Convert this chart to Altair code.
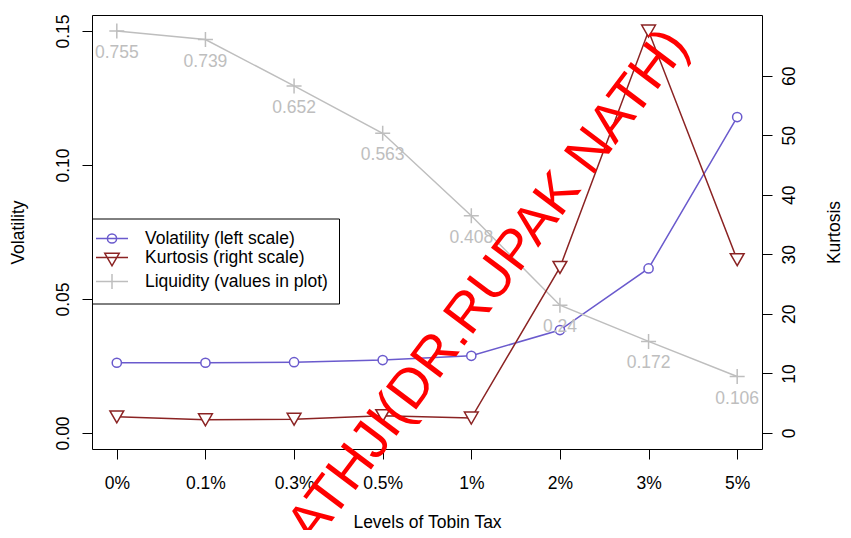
import altair as alt
import pandas as pd

# ---------------- data ----------------
taxes = ["0%", "0.1%", "0.3%", "0.5%", "1%", "2%", "3%", "5%"]
volatility = [0.0262, 0.0262, 0.0264, 0.0272, 0.0288, 0.0384, 0.0614, 0.1179]
kurtosis = [2.7, 2.2, 2.3, 2.9, 2.5, 27.8, 67.5, 29.1]
liquidity = [0.755, 0.739, 0.652, 0.563, 0.408, 0.24, 0.172, 0.106]
liquidity_labels = ["0.755", "0.739", "0.652", "0.563", "0.408", "0.24", "0.172", "0.106"]
series = ["Volatility (left scale)", "Kurtosis (right scale)", "Liquidity (values in plot)"]
colors = ["#6A5ACD", "#8B2323", "#BEBEBE"]
left_ticks = [0, 0.05, 0.10, 0.15]
right_ticks = [0, 10, 20, 30, 40, 50, 60]
watermark = "ATHJI(DR.RUPAK NATH)"

FONT = "Liberation Sans"
FS = 17.5
VOL_C, KUR_C, LIQ_C = colors

df = pd.DataFrame({"tax": taxes, "vol": volatility, "kurt": kurtosis,
                   "liq": liquidity, "liq_label": liquidity_labels})
# liquidity is drawn on the left scale, its largest value mapped to 0.15
df["liq_plot"] = df["liq"] / df["liq"].max() * 0.15

left_dom = [-0.04 * 0.15, 1.04 * 0.15]
kmax = max(kurtosis)
right_dom = [-0.04 * kmax, 1.04 * kmax]

x_enc = alt.X("tax:N", sort=taxes,
              scale=alt.Scale(type="point", padding=0.28),
              axis=alt.Axis(title="Levels of Tobin Tax", labelAngle=0, labelAlign="center",
                            labelBaseline="alphabetic", labelPadding=29, labelFlush=False,
                            titleX=335, titleY=78, titleAlign="center",
                            titleBaseline="alphabetic"))

left_axis = alt.Axis(values=left_ticks, format=".2f", labelAngle=270, labelAlign="center",
                     labelBaseline="alphabetic", labelPadding=14, labelFlush=False,
                     labelOverlap=False, title="Volatility", titleAngle=270,
                     titleX=-69, titleY=217, titleAlign="center", titleBaseline="alphabetic")
right_axis = alt.Axis(values=right_ticks, format="d", labelAngle=270, labelAlign="center",
                      labelBaseline="alphabetic", labelPadding=22, labelFlush=False,
                      labelOverlap=False, title="Kurtosis", titleAngle=270, orient="right",
                      titleX=77, titleY=217, titleAlign="center", titleBaseline="alphabetic")

lscale = alt.Scale(domain=left_dom, nice=False, zero=False)
rscale = alt.Scale(domain=right_dom, nice=False, zero=False)

base = alt.Chart(df)

def ly(field):
    return alt.Y(f"{field}:Q", scale=lscale, axis=left_axis)

vol_line = base.mark_line(color=VOL_C, strokeWidth=1.5).encode(x=x_enc, y=ly("vol"))
vol_pts = base.mark_point(shape="circle", size=85, filled=True, fill="white", stroke=VOL_C,
                          strokeWidth=1.5, opacity=1).encode(x=x_enc, y=ly("vol"))
liq_line = base.mark_line(color=LIQ_C, strokeWidth=1.5).encode(x=x_enc, y=ly("liq_plot"))
liq_pts = base.mark_point(shape="M-1,0H1M0,-1V1", size=225, filled=False, stroke=LIQ_C,
                          strokeWidth=1.5, opacity=1).encode(x=x_enc, y=ly("liq_plot"))
liq_txt = base.mark_text(dy=27, baseline="alphabetic", align="center", fontSize=FS,
                         font=FONT, color=LIQ_C).encode(x=x_enc, y=ly("liq_plot"),
                                                         text="liq_label:N")
left = alt.layer(vol_line, vol_pts, liq_line, liq_pts, liq_txt)

ry = alt.Y("kurt:Q", scale=rscale, axis=right_axis)
kur_line = base.mark_line(color=KUR_C, strokeWidth=1.5).encode(x=x_enc, y=ry)
kur_pts = base.mark_point(shape="triangle-down", size=190, filled=True, fill="white",
                          stroke=KUR_C, strokeWidth=1.5, opacity=1).encode(x=x_enc, y=ry)
right = alt.layer(kur_line, kur_pts)

# legend symbols: line segment with the marker in the middle
legend_paths = [
    "M-2,0H2M0.575,0A0.575,0.575,0,1,1,-0.575,0A0.575,0.575,0,1,1,0.575,0",
    "M-2,0H2M-0.9,-0.52L0.9,-0.52L0,1.04Z",
    "M-2,0H2M0,-0.94V0.94",
]
leg = alt.Legend(title=None, orient="none", legendX=0, legendY=203.5, padding=11,
                 strokeColor="black", fillColor="white", symbolSize=256,
                 symbolStrokeWidth=1.5, labelFont=FONT, labelFontSize=FS, labelLimit=0,
                 labelColor="black", labelOffset=24, rowPadding=1, cornerRadius=0)
legend_layer = base.transform_calculate(series="'x'").transform_filter("false").mark_point(
    filled=False, opacity=1, strokeWidth=1.5).encode(
    color=alt.Color("series:N", scale=alt.Scale(domain=series, range=colors), legend=leg),
    shape=alt.Shape("series:N", scale=alt.Scale(domain=series, range=legend_paths), legend=leg),
)

wm_df = pd.DataFrame({"text": [watermark]})
wm = alt.Chart(wm_df).mark_text(angle=307, fontSize=55, color="#FF0000", font=FONT,
                                align="center", baseline="middle").encode(
    x=alt.value(396), y=alt.value(271), text="text:N")

chart = alt.layer(left, right, legend_layer, wm).resolve_scale(
    y="independent"
).properties(
    width=670, height=434, autosize="none",
    padding={"left": 84, "top": 7, "right": 81, "bottom": 81},
    background="white",
).configure_view(
    stroke="black", strokeWidth=1
).configure_axis(
    domain=False, grid=False, tickColor="black", tickSize=10, tickWidth=1,
    labelFont=FONT, labelFontSize=FS, labelColor="black",
    titleFont=FONT, titleFontSize=FS, titleFontWeight="normal", titleColor="black",
)

chart.save("out.html", embed_options={"renderer": "svg", "actions": False})
